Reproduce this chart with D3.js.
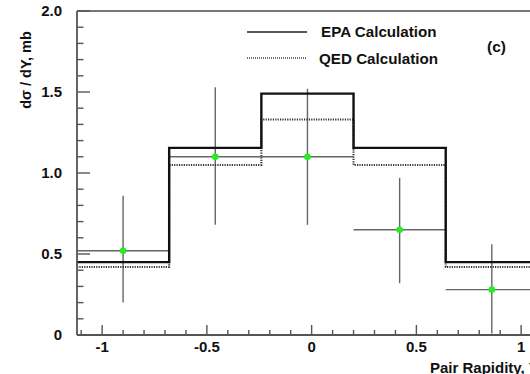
<!DOCTYPE html>
<html>
<head>
<meta charset="utf-8">
<script src="https://cdn.jsdelivr.net/npm/d3@7"></script>
<style>
  html, body { margin: 0; padding: 0; background: #fff; }
  svg { display: block; font-family: "Liberation Sans", Arial, sans-serif; font-weight: bold; }
</style>
</head>
<body>
<svg id="chart" width="530" height="374"></svg>
<script>
// Rapidity bins (edges and centres)
const binEdges = [-1.12, -0.68, -0.24, 0.20, 0.64, 1.08];
const binCenters = [-0.90, -0.46, -0.02, 0.42, 0.86];

// Theory curves, dσ/dY in mb per bin
const epaValues = [0.45, 1.155, 1.49, 1.155, 0.45];
const qedValues = [0.42, 1.05, 1.33, 1.05, 0.42];

// Measured points with asymmetric errors
const dataValues = [0.52, 1.10, 1.10, 0.65, 0.28];
const errUp = [0.34, 0.43, 0.42, 0.32, 0.28];
const errDown = [0.32, 0.42, 0.42, 0.33, 0.27];

// Axis tick labels
const yTickValues = [0, 0.5, 1.0, 1.5, 2.0];
const yTickLabels = ["0", "0.5", "1.0", "1.5", "2.0"];
const xTickValues = [-1, -0.5, 0, 0.5, 1];
const xTickLabels = ["-1", "-0.5", "0", "0.5", "1"];

const legendLabels = ["EPA Calculation", "QED Calculation"];

const svg = d3.select("#chart");
const plotLeft = 77, plotTop = 11, plotBottom = 335;
const x = d3.scaleLinear().domain([-1.12, 1.12]).range([plotLeft, plotLeft + 2.24 * 209.5]);
const y = d3.scaleLinear().domain([0, 2]).range([plotBottom, plotTop]);

const axisColor = "#555";

// Step outline for a histogram
function stepPath(vals) {
  const p = [];
  vals.forEach((v, i) => {
    p.push([x(binEdges[i]), y(v)]);
    p.push([x(binEdges[i + 1]), y(v)]);
  });
  return d3.line()(p);
}

// Error bars (horizontal = bin width, vertical = uncertainty)
const bars = svg.append("g");
dataValues.forEach((v, i) => {
  bars.append("line")
    .attr("x1", x(binEdges[i])).attr("x2", x(binEdges[i + 1]))
    .attr("y1", y(v)).attr("y2", y(v))
    .attr("stroke", "#666").attr("stroke-width", 1.4);
  bars.append("line")
    .attr("x1", x(binCenters[i])).attr("x2", x(binCenters[i]))
    .attr("y1", y(v + errUp[i])).attr("y2", y(v - errDown[i]))
    .attr("stroke", "#666").attr("stroke-width", 1.4);
});

// QED histogram (dotted)
svg.append("path")
  .attr("d", stepPath(qedValues))
  .attr("fill", "none").attr("stroke", "#333")
  .attr("stroke-width", 2).attr("stroke-dasharray", "1.2,1.2");

// EPA histogram (solid)
svg.append("path")
  .attr("d", stepPath(epaValues))
  .attr("fill", "none").attr("stroke", "#111")
  .attr("stroke-width", 2.4);

// Data markers
svg.append("g").selectAll("circle").data(dataValues).join("circle")
  .attr("cx", (d, i) => x(binCenters[i]))
  .attr("cy", d => y(d))
  .attr("r", 3.3)
  .attr("fill", "#22ee22");

// Frame: left axis, bottom axis, top border
svg.append("line").attr("x1", plotLeft).attr("x2", plotLeft).attr("y1", plotTop).attr("y2", plotBottom)
  .attr("stroke", axisColor).attr("stroke-width", 1.8);
svg.append("line").attr("x1", plotLeft).attr("x2", 530).attr("y1", plotBottom).attr("y2", plotBottom)
  .attr("stroke", axisColor).attr("stroke-width", 1.8);
svg.append("line").attr("x1", plotLeft).attr("x2", 530).attr("y1", plotTop).attr("y2", plotTop)
  .attr("stroke", "#777").attr("stroke-width", 1.8);

// Y ticks (inward), minor every 0.1
const yMinor = d3.range(0, 21).map(k => k / 10);
svg.append("g").selectAll("line").data(yMinor).join("line")
  .attr("x1", plotLeft).attr("x2", (d, i) => plotLeft + (i % 5 === 0 ? 13 : 6.5))
  .attr("y1", d => y(d)).attr("y2", d => y(d))
  .attr("stroke", axisColor).attr("stroke-width", 1.4);
svg.append("g").selectAll("text").data(yTickValues).join("text")
  .attr("x", 62).attr("y", d => y(d)).attr("dy", "0.36em")
  .attr("text-anchor", "end").attr("font-size", 15).attr("fill", "#111")
  .text((d, i) => yTickLabels[i]);

// X ticks (inward), minor every 0.1
const xMinor = d3.range(-11, 12).map(k => k / 10);
svg.append("g").selectAll("line").data(xMinor).join("line")
  .attr("x1", d => x(d)).attr("x2", d => x(d))
  .attr("y1", plotBottom).attr("y2", d => plotBottom - (Math.abs(Math.round(d * 10)) % 5 === 0 ? 10 : 5))
  .attr("stroke", axisColor).attr("stroke-width", 1.4);
svg.append("g").selectAll("text").data(xTickValues).join("text")
  .attr("x", d => x(d)).attr("y", 352)
  .attr("text-anchor", "middle").attr("font-size", 15).attr("fill", "#111")
  .text((d, i) => xTickLabels[i]);

// Axis titles
svg.append("text")
  .attr("transform", "translate(31,70) rotate(-90)")
  .attr("text-anchor", "middle").attr("font-size", 14.5).attr("fill", "#111")
  .text("dσ / dY, mb");
svg.append("text")
  .attr("x", 430).attr("y", 373)
  .attr("font-size", 15).attr("fill", "#111")
  .text("Pair Rapidity, Y");

// Legend
const lg = svg.append("g");
lg.append("line").attr("x1", 247).attr("x2", 307).attr("y1", 32).attr("y2", 32)
  .attr("stroke", "#222").attr("stroke-width", 1.5);
lg.append("line").attr("x1", 247).attr("x2", 307).attr("y1", 58).attr("y2", 58)
  .attr("stroke", "#444").attr("stroke-width", 1.4).attr("stroke-dasharray", "1,1");
lg.append("text").attr("x", 321).attr("y", 32).attr("dy", "0.36em")
  .attr("font-size", 15.2).attr("fill", "#111").text(legendLabels[0]);
lg.append("text").attr("x", 319).attr("y", 59).attr("dy", "0.36em")
  .attr("font-size", 15.2).attr("fill", "#111").text(legendLabels[1]);
svg.append("text").attr("x", 487).attr("y", 46).attr("dy", "0.36em")
  .attr("font-size", 15.5).attr("fill", "#111").text("(c)");
</script>
</body>
</html>
